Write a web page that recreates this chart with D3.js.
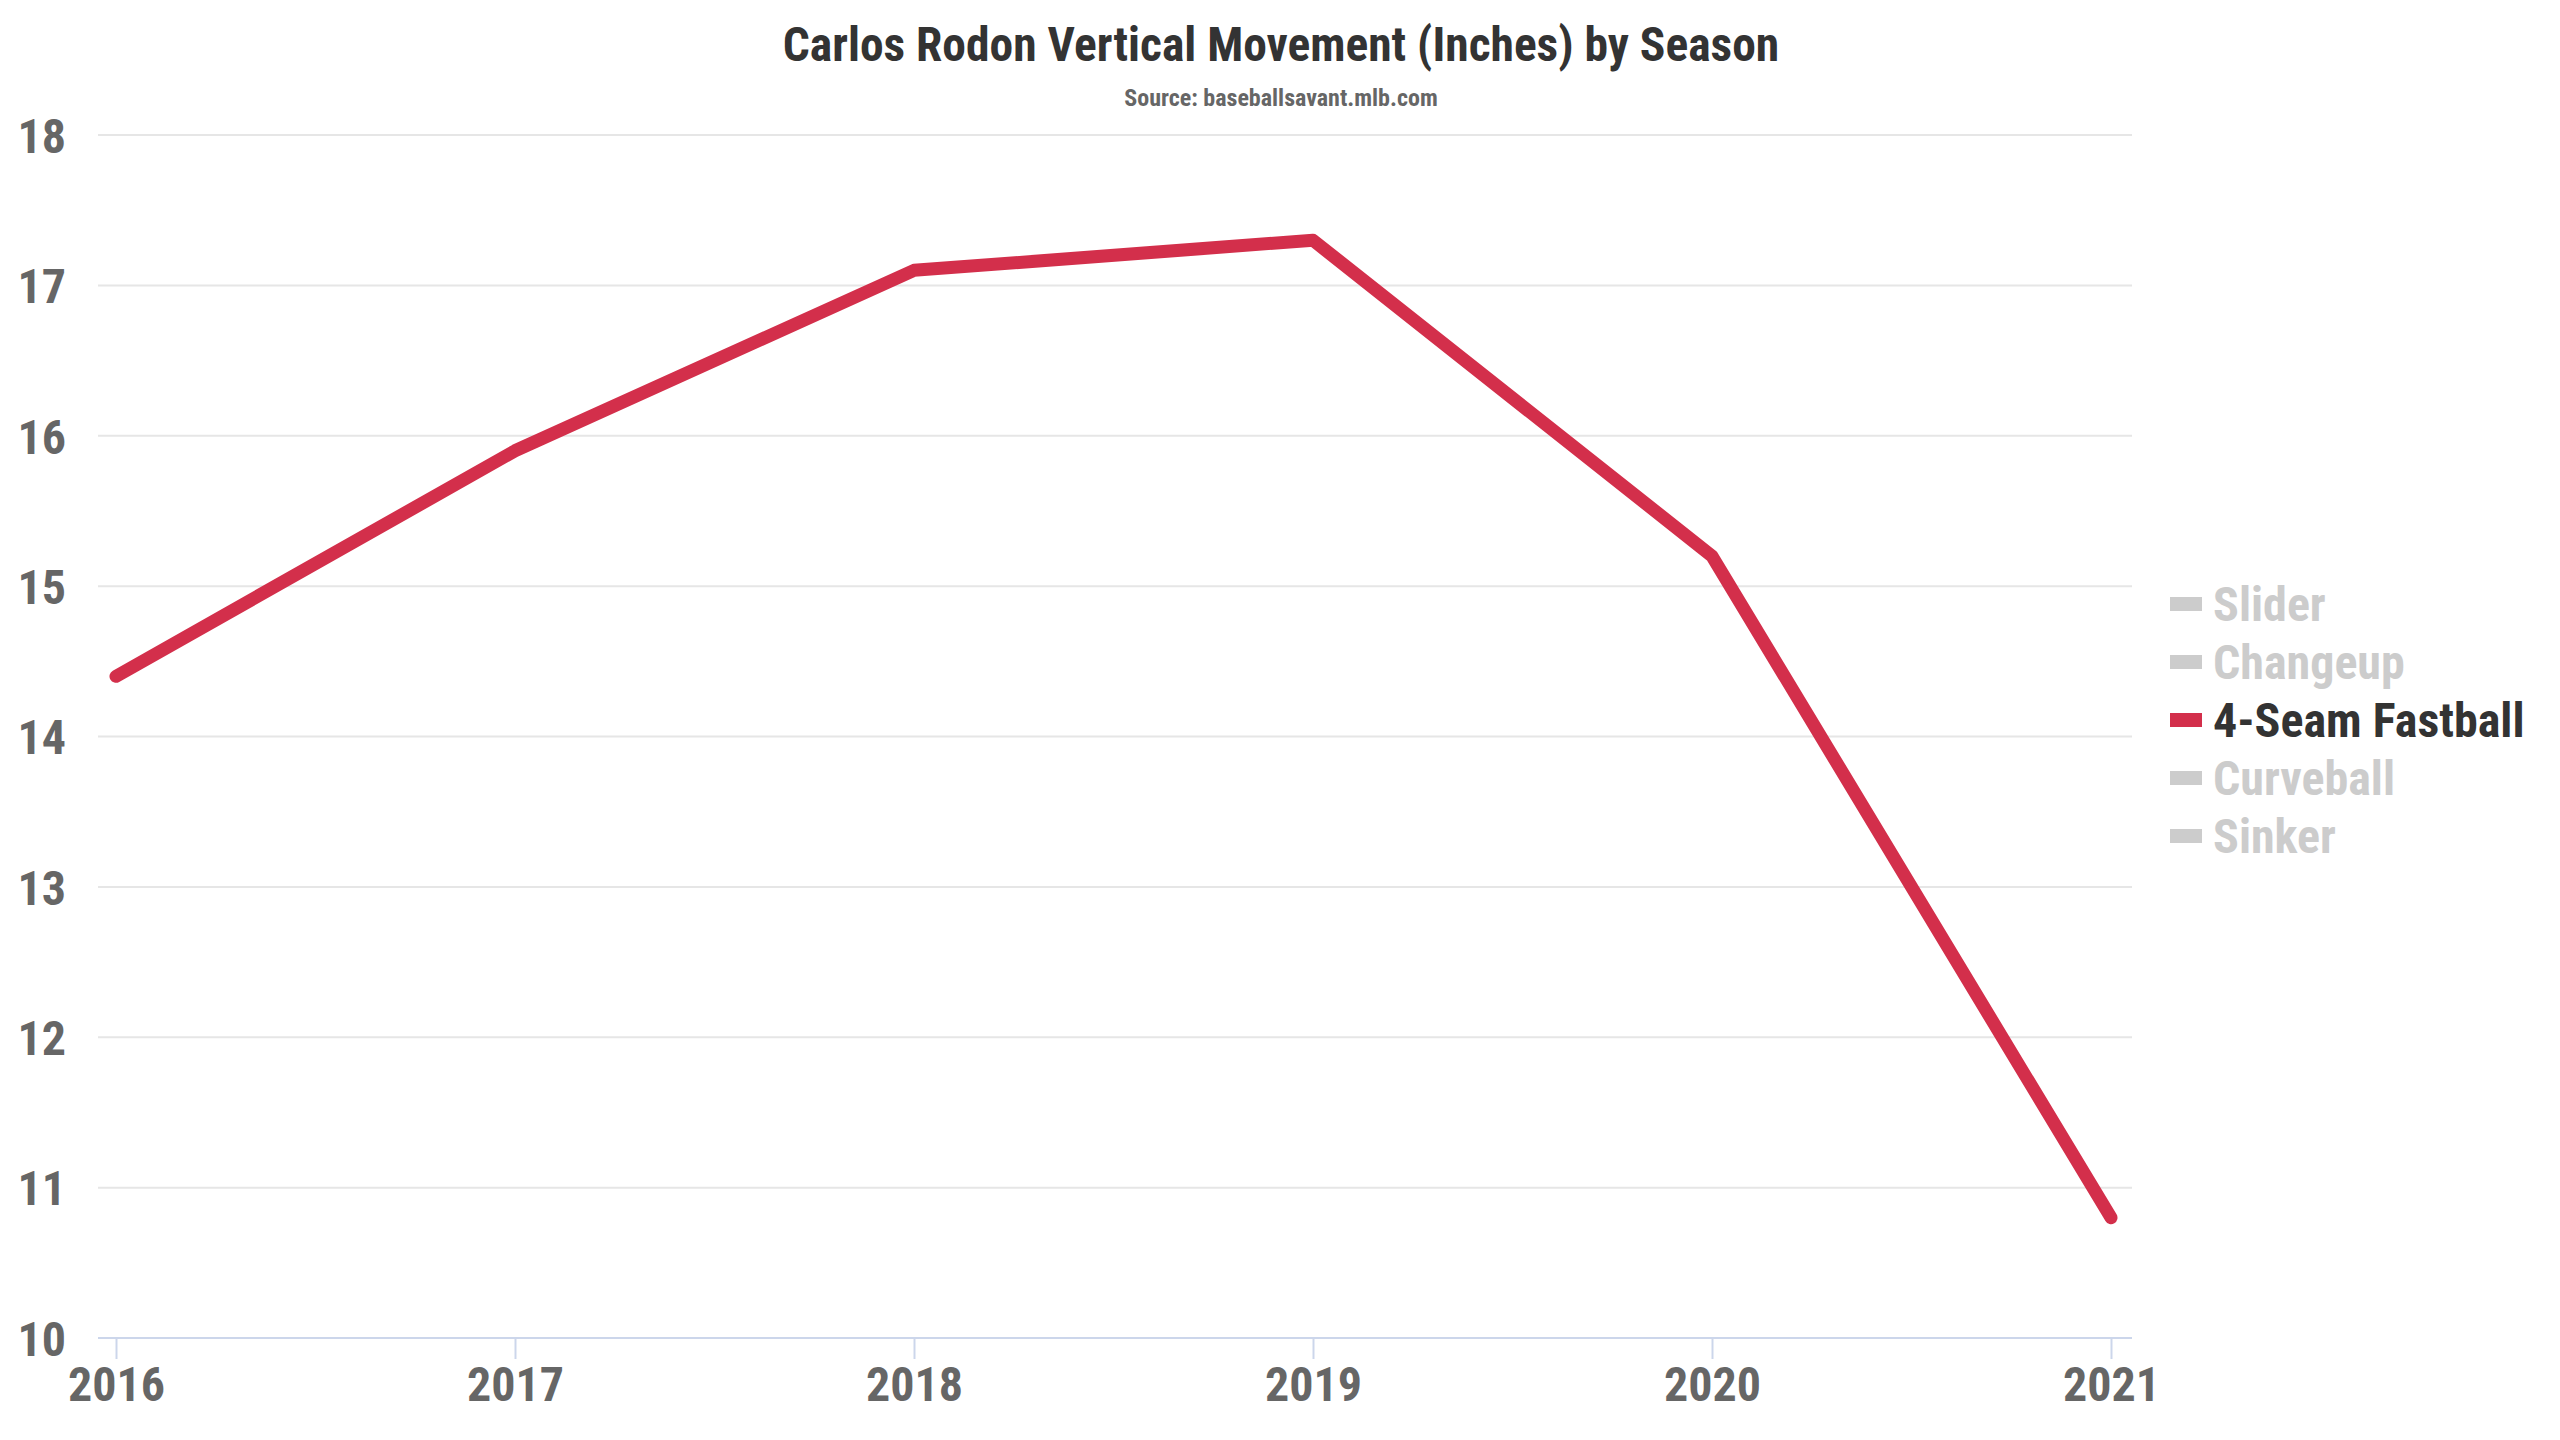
<!DOCTYPE html>
<html>
<head>
<meta charset="utf-8">
<script src="https://cdn.jsdelivr.net/npm/d3@7"></script>
<style>
  html, body { margin: 0; padding: 0; background: #fff; }
  svg { display: block; }
  text { font-family: "Roboto Condensed", "Liberation Sans Narrow", "DejaVu Sans Condensed", Roboto, sans-serif; font-stretch: condensed; font-weight: bold; }
</style>
</head>
<body>
<svg id="chart" width="2560" height="1440"></svg>
<script>
const titleText = "Carlos Rodon Vertical Movement (Inches) by Season";
const subtitleText = "Source: baseballsavant.mlb.com";
const seasons = [2016, 2017, 2018, 2019, 2020, 2021];
const fastballVert = [14.4, 15.9, 17.1, 17.3, 15.2, 10.8];
const yTicks = [10, 11, 12, 13, 14, 15, 16, 17, 18];
const legendItems = ["Slider", "Changeup", "4-Seam Fastball", "Curveball", "Sinker"];
const activeItem = "4-Seam Fastball";

const svg = d3.select("#chart");
const plotLeft = 98, plotRight = 2132;

const x = d3.scaleLinear().domain([2016, 2021]).range([116, 2111]);
const y = d3.scaleLinear().domain([10, 18]).range([1338, 135]);

// Title
svg.append("text").attr("x", 1281).attr("y", 61).attr("text-anchor", "middle")
  .attr("font-size", 47.5).attr("fill", "#333").text(titleText);
svg.append("text").attr("x", 1281).attr("y", 106).attr("text-anchor", "middle")
  .attr("font-size", 24).attr("fill", "#666").text(subtitleText);

// Gridlines
svg.append("g").selectAll("line").data(yTicks.filter(d => d !== 10)).join("line")
  .attr("x1", plotLeft).attr("x2", plotRight)
  .attr("y1", d => y(d)).attr("y2", d => y(d))
  .attr("stroke", "#e6e6e6").attr("stroke-width", 2);

// Y axis labels
const yAxis = d3.axisLeft(y).tickValues(yTicks).tickSize(0).tickPadding(0).tickFormat(d3.format("d"));
const gy = svg.append("g").attr("transform", "translate(66,0)").call(yAxis);
gy.select(".domain").remove();
gy.selectAll("text").attr("font-size", 48).attr("fill", "#666")
  .attr("dy", "0.36em").style("font-family", null);

// X axis
const xAxis = d3.axisBottom(x).tickValues(seasons).tickSize(21).tickPadding(10).tickFormat(d3.format("d"));
const gx = svg.append("g").attr("transform", `translate(0,${y(10)})`).call(xAxis);
gx.select(".domain").attr("d", `M${plotLeft},0H${plotRight}`).attr("stroke", "#ccd6eb").attr("stroke-width", 2);
gx.selectAll(".tick line").attr("stroke", "#ccd6eb").attr("stroke-width", 2);
gx.selectAll("text").attr("font-size", 48).attr("fill", "#666").attr("dy", "0.71em").attr("y", 29)
  .style("font-family", null);

// Line
const line = d3.line().x((d, i) => x(seasons[i])).y(d => y(d));
svg.append("path").datum(fastballVert)
  .attr("d", line).attr("fill", "none")
  .attr("stroke", "#d32f4b").attr("stroke-width", 13)
  .attr("stroke-linecap", "round").attr("stroke-linejoin", "round");

// Legend
const lg = svg.append("g");
const li = lg.selectAll("g").data(legendItems).join("g")
  .attr("transform", (d, i) => `translate(2170,${604 + i * 58})`);
li.append("rect").attr("x", 0).attr("y", -7).attr("width", 32).attr("height", 14)
  .attr("fill", d => d === activeItem ? "#d32f4b" : "#cccccc");
li.append("text").attr("x", 43).attr("y", 0).attr("dy", "0.36em")
  .attr("font-size", 48)
  .attr("fill", d => d === activeItem ? "#333333" : "#cccccc")
  .text(d => d);
</script>
</body>
</html>
